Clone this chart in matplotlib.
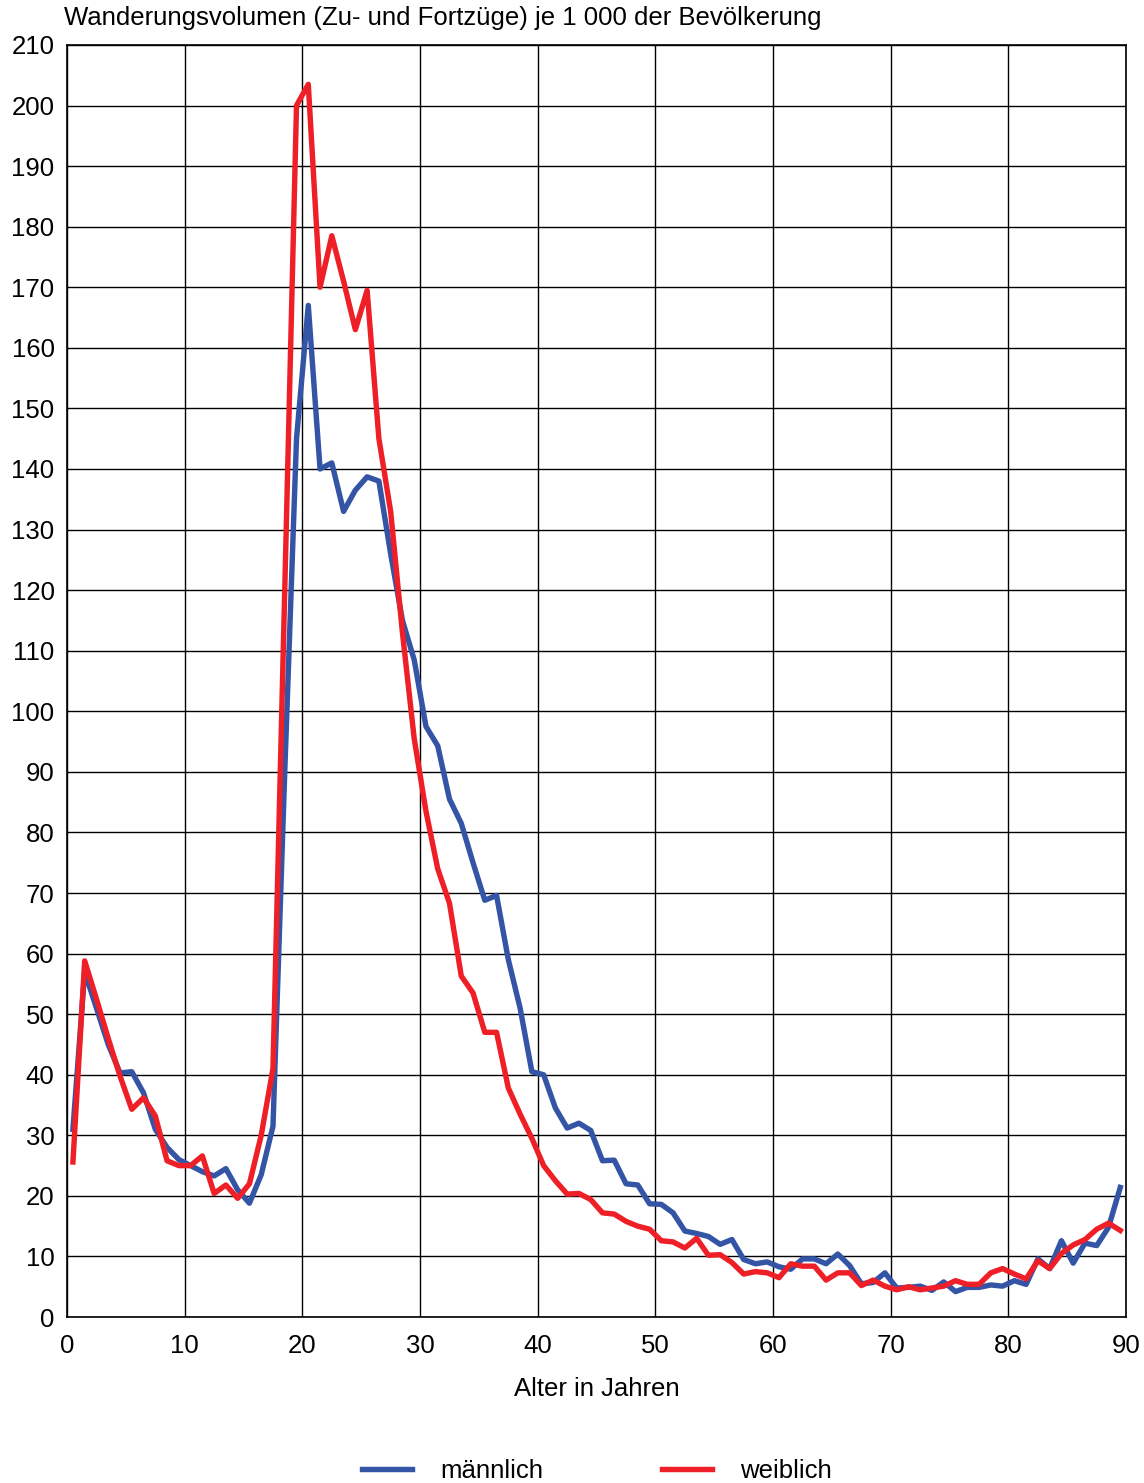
import numpy as np
import matplotlib.pyplot as plt

plt.rcParams['font.family'] = ['Liberation Sans', 'DejaVu Sans']

# Alter (Jahresmitte) 0.5 ... 89.5
alter = np.arange(90) + 0.5

maennlich = [31, 57, 51, 45, 40.3, 40.5, 37, 31, 28, 26,
             25, 24, 23.3, 24.5, 21, 18.8, 23.5, 31.5, 90, 145,
             167, 140, 141, 133, 136.5, 138.7, 138, 126, 115, 108.5,
             97.5, 94.3, 85.5, 81.5, 75, 68.8, 69.6, 59, 51, 40.5,
             40, 34.5, 31.2, 32, 30.8, 25.8, 25.9, 22, 21.8, 18.7,
             18.6, 17.2, 14.2, 13.8, 13.3, 12, 12.8, 9.5, 8.8, 9.1,
             8.3, 7.9, 9.6, 9.6, 8.8, 10.4, 8.5, 5.5, 5.7, 7.3,
             4.8, 4.9, 5.1, 4.4, 5.8, 4.2, 4.9, 4.9, 5.3, 5.1,
             6.0, 5.4, 9.6, 8.0, 12.6, 8.9, 12.2, 11.8, 14.8, 21.4]

weiblich = [25.6, 58.8, 52.5, 46, 39.8, 34.3, 36.2, 33.2, 25.8, 25,
            25, 26.6, 20.4, 21.8, 19.6, 22, 30, 41, 120, 200,
            203.5, 170, 178.5, 171, 163, 169.5, 145, 133, 113, 95.5,
            83.5, 74, 68.3, 56.3, 53.5, 47, 47, 37.8, 33.5, 29.5,
            25, 22.5, 20.3, 20.4, 19.4, 17.2, 17, 15.8, 15, 14.5,
            12.6, 12.4, 11.4, 13, 10.2, 10.3, 9, 7.1, 7.5, 7.3,
            6.5, 8.8, 8.4, 8.4, 6.1, 7.3, 7.3, 5.2, 6.1, 5.1,
            4.5, 5, 4.5, 4.8, 5.1, 6, 5.4, 5.4, 7.3, 8,
            7.1, 6.3, 9.3, 8, 10.5, 11.9, 12.8, 14.5, 15.5, 14.3]

fs = 18.5

fig = plt.figure(figsize=(11.44, 14.83), dpi=100)
ax = fig.add_axes([0.0586, 0.1119, 0.9258, 0.8578])

ax.plot(alter, maennlich, color='#3454a6', lw=3.9, label='männlich', zorder=3)
ax.plot(alter, weiblich, color='#ee1f26', lw=3.9, label='weiblich', zorder=4)

ax.set_xlim(0, 90)
ax.set_ylim(0, 210)
ax.set_xticks(np.arange(0, 91, 10))
ax.set_yticks(np.arange(0, 211, 10))
ax.grid(True, color='black', lw=1.0)
for s in ax.spines.values():
    s.set_color('black')
    s.set_linewidth(1.2)
ax.tick_params(length=0, labelsize=fs, pad=9)
ax.tick_params(axis='x', pad=12)

ax.set_xlabel('Alter in Jahren', fontsize=fs, labelpad=14)
fig.text(0.056, 0.988, 'Wanderungsvolumen (Zu- und Fortzüge) je 1 000 der Bevölkerung',
         fontsize=fs, ha='left', va='center')

fig.legend(loc='center', bbox_to_anchor=(0.522, 0.008), ncol=2, frameon=False,
           fontsize=fs, handlelength=1.95, handletextpad=1.1, columnspacing=4.6)

plt.savefig('out.png')
